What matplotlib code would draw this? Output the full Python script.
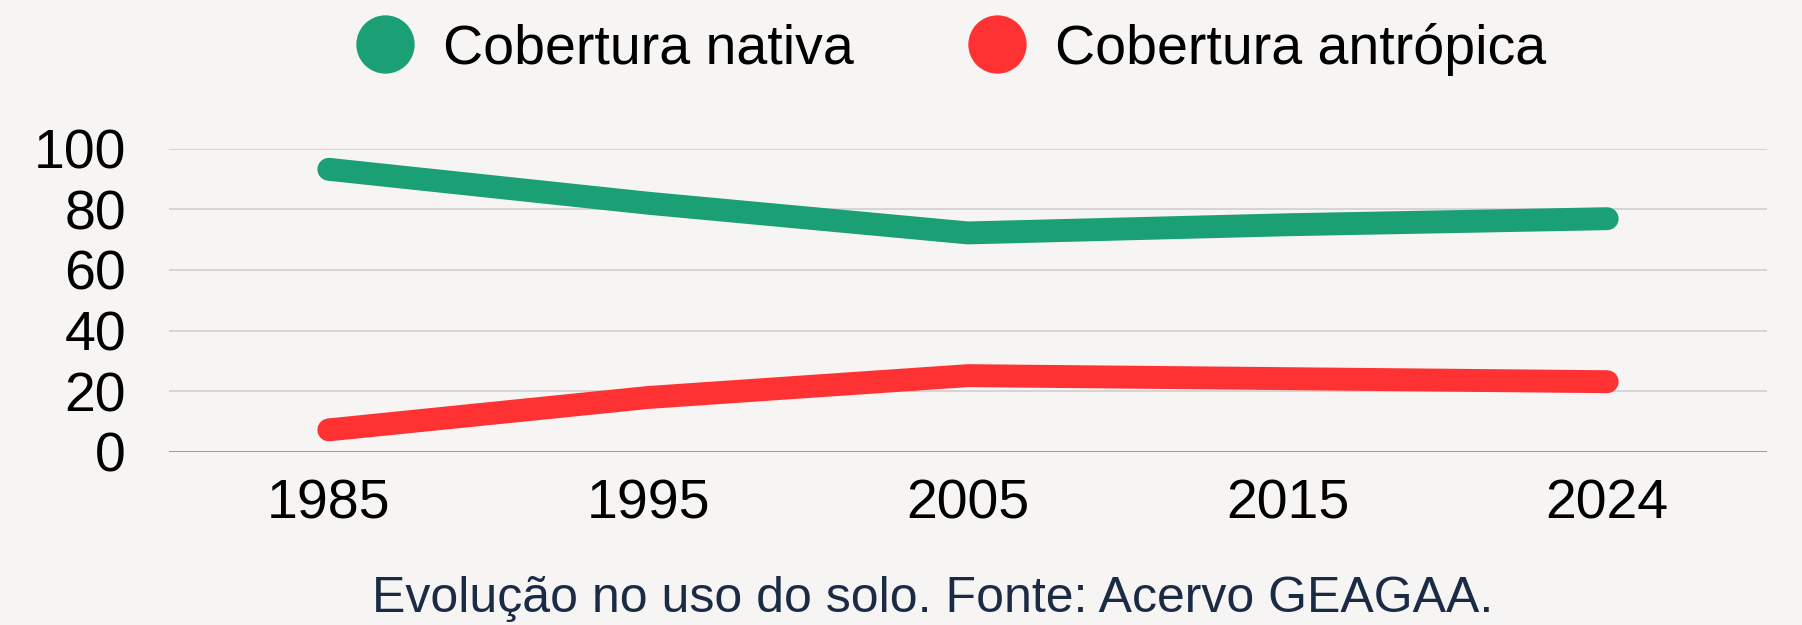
import numpy as np
import matplotlib as mpl
mpl.use("Agg")
import matplotlib.pyplot as plt
from matplotlib.lines import Line2D

# data
anos = ['1985', '1995', '2005', '2015', '2024']
nativa = [93.2, 82.0, 72.2, 74.9, 76.9]
antropica = [7.2, 17.9, 25.1, 24.1, 23.1]
y_ticks = [0, 20, 40, 60, 80, 100]

verde = '#1b9f74'
vermelho = '#ff3233'
fundo = '#f6f5f3'

plt.rcParams['font.family'] = ['Liberation Sans', 'DejaVu Sans']

fig = plt.figure(figsize=(18.02, 6.25), dpi=100, facecolor=fundo)
ax = fig.add_axes([169/1802, 1 - 451.7/625, (1767 - 169)/1802, (451.7 - 148.7)/625])
ax.set_facecolor(fundo)

x = np.arange(len(anos))
ax.plot(x, nativa, color=verde, lw=16.5, solid_capstyle='round',
        solid_joinstyle='miter', clip_on=False, zorder=3)
ax.plot(x, antropica, color=vermelho, lw=16.5, solid_capstyle='round',
        solid_joinstyle='miter', clip_on=False, zorder=3)

ax.set_xlim(-0.5, len(anos) - 0.5)
ax.set_ylim(0, 100)
ax.set_xticks(x)
ax.set_xticklabels(anos)
ax.set_yticks(y_ticks)
ax.tick_params(axis='both', length=0, labelsize=40, colors='black')
ax.tick_params(axis='y', pad=31)
ax.tick_params(axis='x', pad=19)

for v in y_ticks[1:]:
    ax.axhline(v, color='#cfcfcf', lw=1.2, zorder=1)
ax.axhline(0, color='#999999', lw=1.4, zorder=1)
for s in ax.spines.values():
    s.set_visible(False)

handles = [Line2D([], [], ls='none', marker='o', ms=41, color=verde),
           Line2D([], [], ls='none', marker='o', ms=41, color=vermelho)]
fig.legend(handles, ['Cobertura nativa', 'Cobertura antrópica'], loc='center',
           bbox_to_anchor=(951.5/1802, 1 - 49/625), ncol=2, frameon=False,
           fontsize=40, handlelength=1.0, handletextpad=0.55, columnspacing=2.07)

fig.text(933/1802, 1 - 598.5/625, 'Evolução no uso do solo. Fonte: Acervo GEAGAA.',
         ha='center', va='center', fontsize=36, color='#1b2b45')

plt.savefig('out.png', dpi=100, facecolor=fundo)
